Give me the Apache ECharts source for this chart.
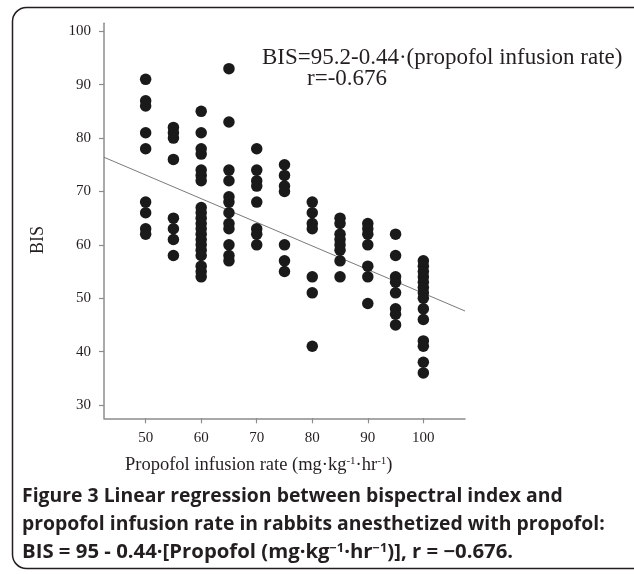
<!DOCTYPE html>
<html>
<head>
<meta charset="utf-8">
<script src="https://cdn.jsdelivr.net/npm/echarts@6/dist/echarts.min.js"></script>
<style>
html,body{margin:0;padding:0;background:#fff;}
#chart{width:634px;height:574px;}
</style>
</head>
<body>
<div id="chart"></div>
<script>
// Infusion rates (x categories) and BIS readings
const rates = [50, 55, 60, 65, 70, 75, 80, 85, 90, 95, 100];
const bis50 = [91, 87, 86, 81, 78, 68, 66, 63, 62];
const bis55 = [82, 81, 80, 76, 65, 63, 61, 58];
const bis60 = [85, 81, 78, 77, 74, 73, 72, 67, 66, 65, 64, 63, 62, 61, 60, 59, 58, 56, 55, 54];
const bis65 = [93, 83, 74, 72, 69, 68, 66, 64, 63, 60, 58, 57];
const bis70 = [78, 74, 72, 71, 68, 63, 62, 60];
const bis75 = [75, 73, 71, 70, 60, 57, 55];
const bis80 = [68, 66, 64, 63, 54, 51, 41];
const bis85 = [65, 64, 62, 61, 60, 59, 57, 54];
const bis90 = [64, 63, 62, 60, 56, 54, 49];
const bis95 = [62, 58, 54, 53, 51, 48, 47, 45];
const bis100 = [57, 56, 55, 54, 53, 52, 51, 50, 48, 46, 42, 41, 38, 36];
// Regression line end points
const fitX = [42.5, 107.5];
const fitY = [76.4, 47.6];
// Tick labels
const xTicks = [50, 60, 70, 80, 90, 100];
const yTicks = [30, 40, 50, 60, 70, 80, 90, 100];

const columns = [bis50, bis55, bis60, bis65, bis70, bis75, bis80, bis85, bis90, bis95, bis100];
const points = [];
columns.forEach((col, i) => col.forEach(v => points.push([rates[i], v])));
const fitData = fitX.map((x, i) => [x, fitY[i]]);

const serif = '"Liberation Serif", "Times New Roman", serif';
const sans = '"Open Sans", sans-serif';
const axisColor = '#8c8c8c';
const textColor = '#231f20';

const chart = echarts.init(document.getElementById('chart'), null, {renderer: 'canvas'});
chart.setOption({
  animation: false,
  backgroundColor: '#fff',
  grid: {left: 104, right: 169, top: 23.3, bottom: 155.7},
  xAxis: {
    type: 'value', min: 42.5, max: 107.5,
    axisLine: {show: true, lineStyle: {color: axisColor, width: 1.5}},
    axisTick: {show: true, length: 5, lineStyle: {color: axisColor, width: 1.2}, customValues: xTicks},
    axisLabel: {customValues: xTicks, color: textColor, fontFamily: serif, fontSize: 15, margin: 12},
    splitLine: {show: false}
  },
  yAxis: {
    type: 'value', min: 27.5, max: 101.5,
    axisLine: {show: true, lineStyle: {color: axisColor, width: 1.5}},
    axisTick: {show: true, length: 5, lineStyle: {color: axisColor, width: 1.2}, customValues: yTicks},
    axisLabel: {customValues: yTicks, color: textColor, fontFamily: serif, fontSize: 15, margin: 13},
    splitLine: {show: false}
  },
  series: [
    {
      type: 'line', data: fitData, symbol: 'none', z: 1,
      lineStyle: {color: '#7a7a7a', width: 1}, silent: true
    },
    {
      type: 'scatter', data: points, symbol: 'circle', symbolSize: 11.5, z: 2,
      itemStyle: {color: '#1a1a1a', opacity: 1}, silent: true
    }
  ],
  graphic: [
    {
      type: 'rect', silent: true, z: -1,
      shape: {x: 12.5, y: 7.5, width: 640, height: 561, r: 14},
      style: {fill: 'none', stroke: '#231f20', lineWidth: 1.5}
    },
    {
      type: 'text', silent: true, x: 262, y: 58,
      style: {text: 'BIS=95.2-0.44·(propofol infusion rate)', font: '23px ' + serif, fill: textColor, verticalAlign: 'middle', align: 'left'}
    },
    {
      type: 'text', silent: true, x: 307, y: 79,
      style: {text: 'r=-0.676', font: '23px ' + serif, fill: textColor, verticalAlign: 'middle', align: 'left'}
    },
    {
      type: 'text', silent: true, x: 38, y: 240, rotation: Math.PI / 2,
      style: {text: 'BIS', font: '18px ' + serif, fill: textColor, verticalAlign: 'middle', align: 'center'}
    },
    {
      type: 'text', silent: true, x: 125, y: 456,
      style: {
        text: 'Propofol infusion rate (mg·kg{s|-1}·hr{s|-1})',
        font: '18.5px ' + serif, fill: textColor, align: 'left', verticalAlign: 'top',
        rich: {s: {fontSize: 11, fontFamily: serif, verticalAlign: 'top', fill: textColor}}
      }
    },
    {
      type: 'text', silent: true, x: 22, y: 497, scaleX: 1.02,
      style: {text: 'Figure 3 Linear regression between bispectral index and', font: 'bold 19px ' + sans, fill: textColor, verticalAlign: 'middle', align: 'left'}
    },
    {
      type: 'text', silent: true, x: 22, y: 525, scaleX: 1.02,
      style: {text: 'propofol infusion rate in rabbits anesthetized with propofol:', font: 'bold 19px ' + sans, fill: textColor, verticalAlign: 'middle', align: 'left'}
    },
    {
      type: 'text', silent: true, x: 22, y: 543, scaleX: 1.07,
      style: {
        text: 'BIS = 95 - 0.44·[Propofol (mg·kg{s|−1}·hr{s|−1})], r = −0.676.',
        font: 'bold 19px ' + sans, fill: textColor, verticalAlign: 'top', align: 'left',
        rich: {s: {fontSize: 12, fontWeight: 'bold', fontFamily: sans, verticalAlign: 'top', fill: textColor}}
      }
    }
  ]
});
</script>
</body>
</html>
